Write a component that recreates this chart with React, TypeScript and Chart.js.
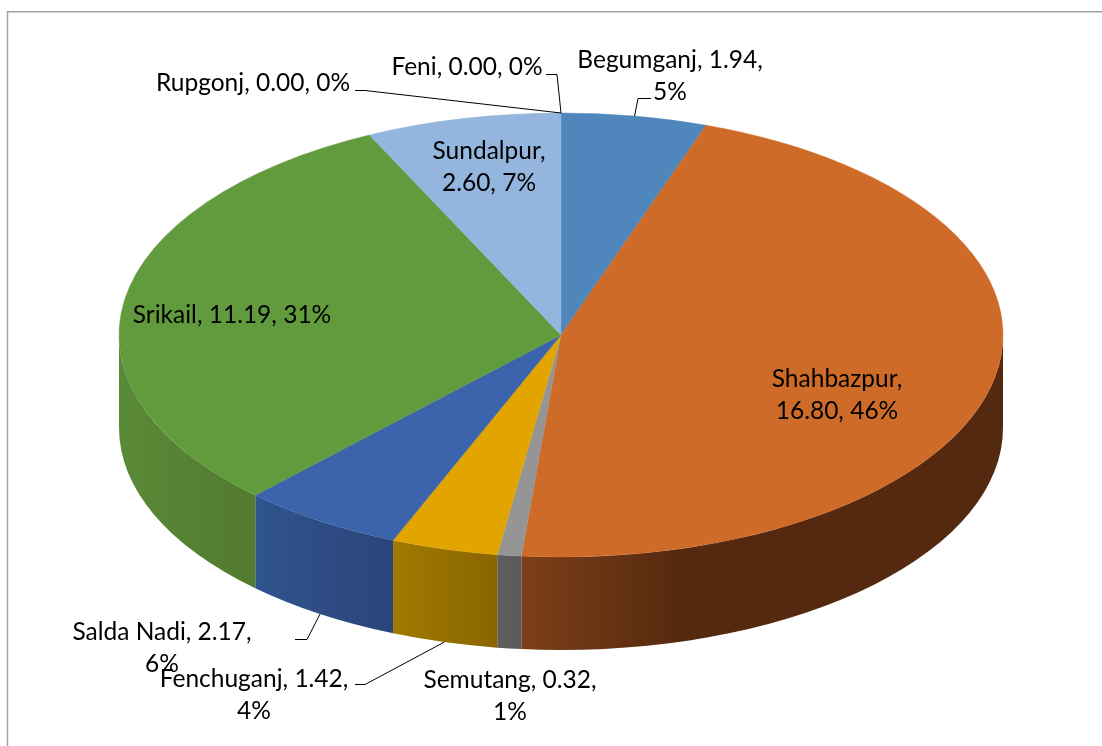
import React, { useEffect, useRef } from "react";
import { Chart, registerables } from "chart.js";

Chart.register(...registerables);

const categories = ["Begumganj", "Shahbazpur", "Semutang", "Fenchuganj", "Salda Nadi", "Srikail", "Sundalpur", "Rupgonj", "Feni"];
const values = [1.94, 16.8, 0.32, 1.42, 2.17, 11.19, 2.6, 0.0, 0.0];
const topColors = ["#4f86bb", "#cf6b28", "#959595", "#e2a500", "#3b64ac", "#629b3e", "#94b6de", "#a5a5a5", "#5b9bd5"];
const wallColors: string[][] = [
  ["#3a6489", "#3a6489"],
  ["#7c3f18", "#55290f", "#55290f", "#53290f"],
  ["#5f5f5f", "#585858"],
  ["#a07a00", "#8a6500"],
  ["#30548f", "#2b4478"],
  ["#5a8a37", "#527a30"],
  ["#6e88a6", "#6e88a6"],
  ["#777777", "#777777"],
  ["#777777", "#777777"],
];

const FONT = '24.5px Lato, "Noto Sans", sans-serif';
const SQUASH = 222 / 442;
const DEPTH = 93;

// Label placement: centre x, first baseline, words on the first line, and leader elbow
type Place = { cx: number; y: number; firstWords: number; leader?: [number, number][]; wall?: boolean };
const places: Place[] = [
  { cx: 670, y: 68, firstWords: 2, leader: [[651, 98], [638, 98]] },
  { cx: 837, y: 387, firstWords: 1 },
  { cx: 510, y: 688, firstWords: 2 },
  { cx: 254, y: 687, firstWords: 2, leader: [[355, 684], [365, 684]], wall: true },
  { cx: 162, y: 640, firstWords: 3, leader: [[295, 639], [307, 639]], wall: true },
  { cx: 232, y: 323, firstWords: 9 },
  { cx: 489, y: 159, firstWords: 1 },
  { cx: 253, y: 91, firstWords: 9, leader: [[355, 90], [365, 90]] },
  { cx: 467, y: 75, firstWords: 9, leader: [[546, 74], [557, 74]] },
];

const pie3d = {
  id: "pie3d",
  beforeDraw(chart: any) {
    const { ctx, width, height } = chart;
    ctx.save();
    ctx.fillStyle = "#ffffff";
    ctx.fillRect(0, 0, width, height);
    ctx.strokeStyle = "#a3a3a3";
    ctx.lineWidth = 1.5;
    ctx.beginPath();
    ctx.moveTo(7.5, height);
    ctx.lineTo(7.5, 11.75);
    ctx.lineTo(width, 11.75);
    ctx.stroke();
    ctx.restore();
  },
  beforeDatasetsDraw(chart: any) {
    const { ctx } = chart;
    const arcs = chart.getDatasetMeta(0).data;
    ctx.save();
    arcs.forEach((arc: any, i: number) => {
      const s = Math.max(arc.startAngle, 0);
      const e = Math.min(arc.endAngle, Math.PI);
      if (e <= s) return;
      const rx = arc.outerRadius;
      const ry = rx * SQUASH;
      const xa = arc.x + rx * Math.cos(e);
      const xb = arc.x + rx * Math.cos(s);
      const g = ctx.createLinearGradient(xa, 0, xb, 0);
      const stops = wallColors[i];
      stops.forEach((c, k) => g.addColorStop(k / (stops.length - 1), c));
      ctx.fillStyle = g;
      ctx.beginPath();
      ctx.ellipse(arc.x, arc.y + DEPTH, rx, ry, 0, s, e);
      ctx.ellipse(arc.x, arc.y, rx, ry, 0, e, s, true);
      ctx.closePath();
      ctx.fill();
    });
    ctx.restore();
    const c = arcs[0];
    ctx.save();
    ctx.translate(c.x, c.y);
    ctx.scale(1, SQUASH);
    ctx.translate(-c.x, -c.y);
  },
  afterDatasetsDraw(chart: any) {
    chart.ctx.restore();
  },
  afterDraw(chart: any) {
    const { ctx } = chart;
    const arcs = chart.getDatasetMeta(0).data;
    const total = values.reduce((a, b) => a + b, 0);
    ctx.save();
    ctx.strokeStyle = "#000000";
    ctx.lineWidth = 1;
    places.forEach((p, i) => {
      if (!p.leader) return;
      const arc = arcs[i];
      const mid = (arc.startAngle + arc.endAngle) / 2;
      const ax = arc.x + arc.outerRadius * Math.cos(mid);
      const ay = arc.y + arc.outerRadius * SQUASH * Math.sin(mid) + (p.wall ? DEPTH : 0);
      ctx.beginPath();
      p.leader.forEach(([x, y], k) => (k === 0 ? ctx.moveTo(x, y + 0.5) : ctx.lineTo(x, y + 0.5)));
      ctx.lineTo(ax, ay);
      ctx.stroke();
    });
    ctx.fillStyle = "#000000";
    ctx.font = FONT;
    ctx.textAlign = "center";
    ctx.textBaseline = "alphabetic";
    places.forEach((p, i) => {
      const text = `${categories[i]}, ${values[i].toFixed(2)}, ${Math.round((values[i] / total) * 100)}%`;
      const words = text.split(" ");
      const first = words.slice(0, p.firstWords).join(" ");
      const rest = words.slice(p.firstWords).join(" ");
      ctx.fillText(first, p.cx, p.y);
      if (rest) ctx.fillText(rest, p.cx, p.y + 31.5);
    });
    ctx.restore();
  },
};

export default function App() {
  const ref = useRef<HTMLCanvasElement>(null);
  useEffect(() => {
    const chart = new Chart(ref.current!, {
      type: "pie",
      data: {
        labels: categories,
        datasets: [
          {
            data: values,
            backgroundColor: topColors,
            borderColor: topColors,
            borderWidth: values.map((v) => (v > 0 ? 0.6 : 0)),
            radius: 442,
            clip: false,
          } as any,
        ],
      },
      options: {
        animation: false,
        responsive: false,
        layout: { padding: { left: 20, right: 0, top: 0, bottom: 76 } },
        plugins: { legend: { display: false }, tooltip: { enabled: false } },
      },
      plugins: [pie3d],
    } as any);
    return () => chart.destroy();
  }, []);
  return (
    <div style={{ position: "absolute", left: 0, top: 0, width: 1102, height: 746 }}>
      <canvas ref={ref} width={1102} height={746} style={{ display: "block" }} />
    </div>
  );
}
